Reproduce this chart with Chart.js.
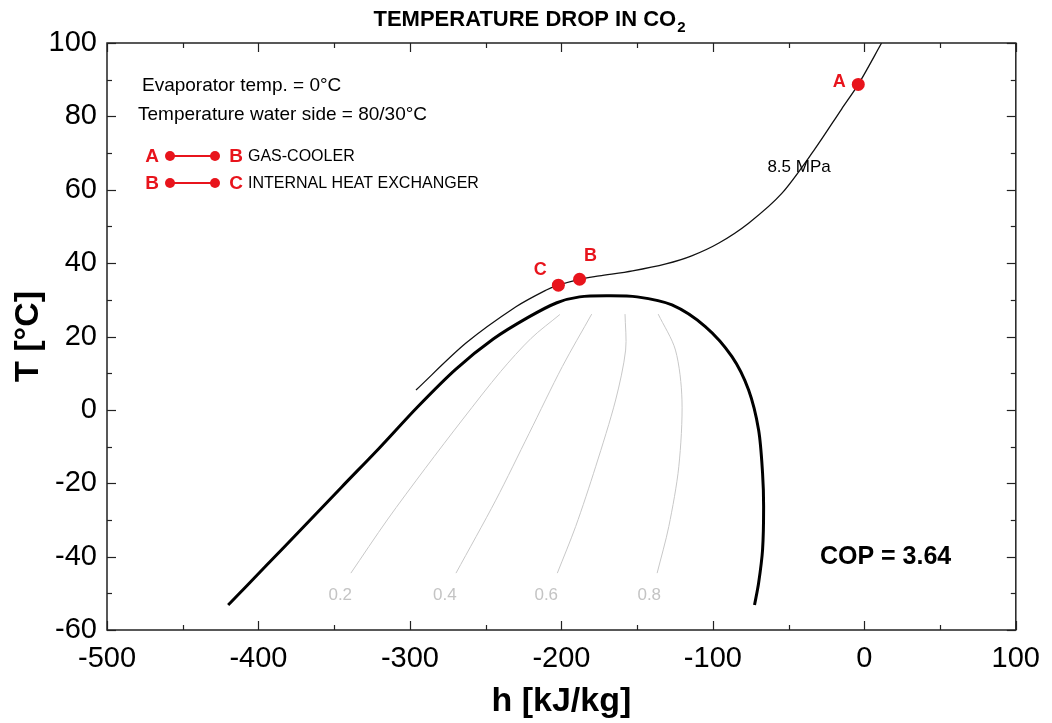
<!DOCTYPE html>
<html lang="en">
<head>
<meta charset="UTF-8" />
<title>Temperature drop in CO2</title>
<script src="https://cdn.jsdelivr.net/npm/chart.js"></script>
<style>
  html, body { margin: 0; padding: 0; background: #fff; }
  canvas { display: block; }
</style>
</head>
<body>
<canvas id="chart" width="1052" height="723"></canvas>
<script>
  // axis ranges
  const xMin = -500, xMax = 100, xStep = 100;
  const yMin = -60, yMax = 100, yStep = 20;

  // saturation dome (h in kJ/kg, T in °C)
  const domeH = [-420, -395, -370, -345, -320, -295, -270, -245, -222, -203, -188, -170, -150, -127, -105, -87.4, -76.4, -69.8, -67.2, -66.5, -67.2, -69.8, -72.5];
  const domeT = [-53.2, -42.5, -31.8, -21, -10.3, 0.8, 11, 19.3, 25.2, 29.2, 30.8, 31.1, 30.8, 28.6, 22.7, 14.5, 5.4, -5.5, -17.2, -26.4, -38.2, -47.2, -53.2];

  // 8.5 MPa isobar
  const isoH = [-296, -263, -230, -210.3, -202, -188, -175, -153, -131, -114, -96, -76.4, -54.5, -32.5, -15, -4, 11.4];
  const isoT = [5.4, 18.2, 28.1, 32.6, 34.0, 35.6, 36.5, 37.9, 39.8, 42.0, 45.5, 50.9, 59.0, 71.2, 82.0, 88.7, 100];

  // vapour quality lines
  const qualityNames = ['0.2', '0.4', '0.6', '0.8'];
  const q02H = [-339, -315, -290, -265, -240, -220, -201];
  const q02T = [-44.5, -30, -16, -2.5, 10.5, 19.5, 26];
  const q04H = [-269.6, -243.3, -221.3, -199.4, -180];
  const q04T = [-44.5, -24.6, -6.4, 11.8, 26.1];
  const q06H = [-202.7, -190.6, -177.4, -164.2, -157.6, -158];
  const q06T = [-44.5, -31.8, -15.5, 2.7, 16.3, 26.1];
  const q08H = [-136.8, -129.1, -122.5, -120.4, -124.7, -136.1];
  const q08T = [-44.5, -31.8, -15.5, 2.7, 16.3, 26.1];
  const qLabelH = [-346, -277, -210, -142];
  const qLabelT = -50.5;

  // cycle points
  const pointNames = ['A', 'B', 'C'];
  const pointH = [-4, -188, -202];
  const pointT = [88.7, 35.6, 34.0];

  const RED = '#e8141c';
  const FONT = 'Arial, "Liberation Sans", sans-serif';

  const toXY = (hs, ts) => hs.map((h, i) => ({ x: h, y: ts[i] }));

  const lineSet = (hs, ts, color, width, order) => ({
    data: toXY(hs, ts),
    showLine: true,
    borderColor: color,
    borderWidth: width,
    pointRadius: 0,
    tension: 0.3,
    fill: false,
    order: order
  });

  const decor = {
    id: 'decor',
    afterDraw(chart) {
      const { ctx, chartArea: a, scales: { x, y } } = chart;
      ctx.save();

      // frame and inward ticks on all four sides
      ctx.strokeStyle = '#222';
      ctx.lineWidth = 1.5;
      ctx.strokeRect(a.left, a.top, a.right - a.left, a.bottom - a.top);
      ctx.lineWidth = 1.2;
      const seg = (x1, y1, x2, y2) => { ctx.beginPath(); ctx.moveTo(x1, y1); ctx.lineTo(x2, y2); ctx.stroke(); };
      for (let v = xMin; v <= xMax; v += xStep / 2) {
        const px = Math.round(x.getPixelForValue(v)) + 0.5;
        const len = v % xStep === 0 ? 9 : 5;
        seg(px, a.bottom, px, a.bottom - len);
        seg(px, a.top, px, a.top + len);
      }
      for (let v = yMin; v <= yMax; v += yStep / 2) {
        const py = Math.round(y.getPixelForValue(v)) + 0.5;
        const len = v % yStep === 0 ? 9 : 5;
        seg(a.left, py, a.left + len, py);
        seg(a.right, py, a.right - len, py);
      }

      // title with subscript
      ctx.fillStyle = '#000';
      ctx.textBaseline = 'alphabetic';
      ctx.textAlign = 'left';
      ctx.font = 'bold 22px ' + FONT;
      const main = 'TEMPERATURE DROP IN CO';
      const w1 = ctx.measureText(main).width;
      ctx.font = 'bold 15px ' + FONT;
      const w2 = ctx.measureText('2').width;
      const tx = 529 - (w1 + w2) / 2;
      ctx.font = 'bold 22px ' + FONT;
      ctx.fillText(main, tx, 26);
      ctx.font = 'bold 15px ' + FONT;
      ctx.fillText('2', tx + w1 + 1, 32);

      // axis titles
      ctx.font = 'bold 34px ' + FONT;
      ctx.textAlign = 'center';
      ctx.fillText('h [kJ/kg]', (a.left + a.right) / 2, 711);
      ctx.save();
      ctx.translate(38, (a.top + a.bottom) / 2);
      ctx.rotate(-Math.PI / 2);
      ctx.fillText('T [°C]', 0, 0);
      ctx.restore();

      // notes in the upper left
      ctx.textAlign = 'left';
      ctx.font = '19px ' + FONT;
      ctx.fillText('Evaporator temp. = 0°C', 142, 91);
      ctx.fillText('Temperature water side = 80/30°C', 138, 120);

      const legendRow = (l1, l2, text, yy) => {
        ctx.fillStyle = RED;
        ctx.strokeStyle = RED;
        ctx.lineWidth = 2;
        seg(170, yy, 215, yy);
        [170, 215].forEach(cx => { ctx.beginPath(); ctx.arc(cx, yy, 5, 0, Math.PI * 2); ctx.fill(); });
        ctx.font = 'bold 19px ' + FONT;
        ctx.textAlign = 'center';
        ctx.textBaseline = 'middle';
        ctx.fillText(l1, 152, yy + 1);
        ctx.fillText(l2, 236, yy + 1);
        ctx.fillStyle = '#000';
        ctx.font = '16px ' + FONT;
        ctx.textAlign = 'left';
        ctx.fillText(text, 248, yy + 1);
      };
      legendRow('A', 'B', 'GAS-COOLER', 156);
      legendRow('B', 'C', 'INTERNAL HEAT EXCHANGER', 183);

      // point letters
      const offs = [[-19, -2], [11, -23], [-18, -15]];
      ctx.fillStyle = RED;
      ctx.font = 'bold 18px ' + FONT;
      ctx.textAlign = 'center';
      ctx.textBaseline = 'middle';
      pointNames.forEach((n, i) => {
        ctx.fillText(n, x.getPixelForValue(pointH[i]) + offs[i][0], y.getPixelForValue(pointT[i]) + offs[i][1]);
      });

      // quality labels
      ctx.fillStyle = '#c4c4c4';
      ctx.font = '17px ' + FONT;
      qualityNames.forEach((n, i) => {
        ctx.fillText(n, x.getPixelForValue(qLabelH[i]), y.getPixelForValue(qLabelT));
      });

      // isobar label and COP
      ctx.fillStyle = '#000';
      ctx.textAlign = 'left';
      ctx.font = '17px ' + FONT;
      ctx.fillText('8.5 MPa', x.getPixelForValue(-64), y.getPixelForValue(66.2));
      ctx.textAlign = 'center';
      ctx.font = 'bold 25px ' + FONT;
      ctx.fillText('COP = 3.64', x.getPixelForValue(14), y.getPixelForValue(-40));

      ctx.restore();
    }
  };

  Chart.defaults.font.family = FONT;
  Chart.defaults.color = '#000';

  new Chart(document.getElementById('chart'), {
    type: 'scatter',
    data: {
      datasets: [
        {
          data: toXY(pointH, pointT),
          pointRadius: 6.5,
          pointHoverRadius: 6.5,
          backgroundColor: RED,
          borderWidth: 0,
          showLine: false,
          order: 0
        },
        lineSet(isoH, isoT, '#111', 1.3, 1),
        lineSet(domeH, domeT, '#000', 3, 2),
        lineSet(q02H, q02T, '#c8c8c8', 1, 3),
        lineSet(q04H, q04T, '#c8c8c8', 1, 3),
        lineSet(q06H, q06T, '#c8c8c8', 1, 3),
        lineSet(q08H, q08T, '#c8c8c8', 1, 3)
      ]
    },
    options: {
      responsive: false,
      animation: false,
      layout: { padding: { left: 0, top: 43, right: 30, bottom: 0 } },
      plugins: {
        legend: { display: false },
        tooltip: { enabled: false },
        title: { display: false }
      },
      scales: {
        x: {
          type: 'linear',
          min: xMin,
          max: xMax,
          grid: { display: false, drawTicks: false },
          border: { display: false },
          ticks: { stepSize: xStep, padding: 12, font: { size: 29 }, color: '#000' },
          afterFit: s => { s.height = 93; }
        },
        y: {
          type: 'linear',
          min: yMin,
          max: yMax,
          grid: { display: false, drawTicks: false },
          border: { display: false },
          ticks: { stepSize: yStep, padding: 10, font: { size: 29 }, color: '#000' },
          afterFit: s => { s.width = 107; }
        }
      }
    },
    plugins: [decor]
  });
</script>
</body>
</html>
